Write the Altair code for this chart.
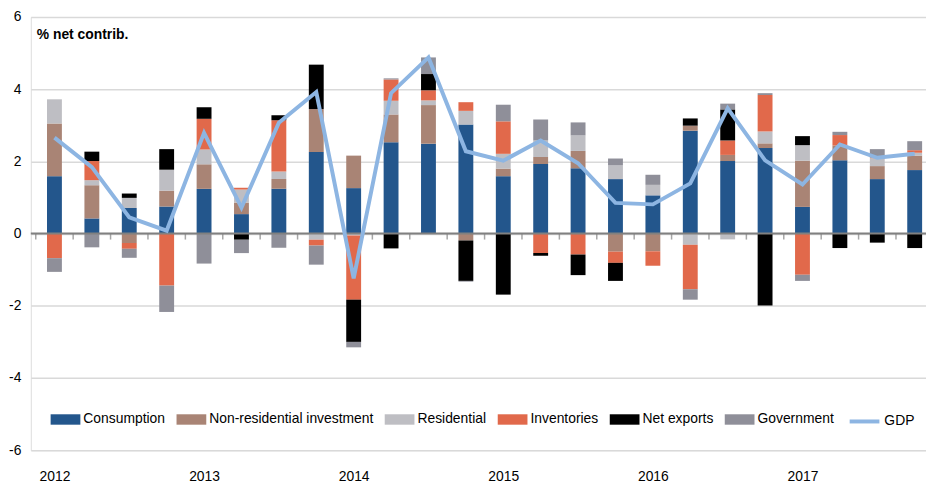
import json
import altair as alt
import pandas as pd

# ---------------- data ----------------
quarters = list(range(24))  # 2012Q1 .. 2017Q4
years = ["2012", "2013", "2014", "2015", "2016", "2017"]
components = ["Consumption", "Non-residential investment", "Residential",
              "Inventories", "Net exports", "Government"]

consumption = [1.59, 0.42, 0.71, 0.75, 1.24, 0.54, 1.24, 2.26, 1.26, 2.53, 2.49, 3.02,
               1.59, 1.93, 1.81, 1.51, 1.06, 2.85, 2.01, 2.37, 0.74, 2.03, 1.51, 1.76]
nonres = [1.46, 0.92, -0.26, 0.44, 0.68, 0.32, 0.27, 1.19, 0.90, 0.77, 1.07, -0.19,
          0.21, 0.19, 0.48, -0.50, -0.49, 0.14, 0.17, 0.13, 1.28, 0.41, 0.36, 0.40]
residential = [0.67, 0.14, 0.28, 0.58, 0.41, 0.36, 0.21, -0.17, -0.05, 0.38, 0.13, 0.38,
               0.41, 0.46, 0.43, 0.38, 0.29, -0.31, -0.16, 0.33, 0.43, 0.0, 0.22, 0.08]
inventories = [-0.68, 0.53, -0.16, -1.44, 0.85, 0.05, 1.42, -0.16, -1.78, 0.59, 0.28, 0.24,
               0.90, -0.54, -0.58, -0.31, -0.40, -1.23, 0.40, 1.01, -1.14, 0.29, 0.02, 0.07]
net_exports = [0.0, 0.26, 0.12, 0.57, 0.32, -0.17, 0.14, 1.23, -1.17, -0.41, 0.45, -1.12,
               -1.69, -0.07, -0.57, -0.50, 0.0, 0.20, 0.86, -1.99, 0.25, -0.40, -0.25, -0.40]
government = [-0.38, -0.38, -0.25, -0.73, -0.83, -0.37, -0.39, -0.53, -0.15, 0.03, 0.46, -0.02,
              0.46, 0.58, 0.36, 0.19, 0.28, -0.29, 0.16, 0.05, -0.17, 0.09, 0.23, 0.25]
gdp = [2.66, 1.84, 0.45, 0.08, 2.79, 0.72, 3.07, 3.92, -1.24, 3.89, 4.88, 2.28,
       2.02, 2.58, 1.95, 0.85, 0.81, 1.39, 3.47, 2.03, 1.36, 2.47, 2.10, 2.21]
title_text = "% net contrib."

series = [consumption, nonres, residential, inventories, net_exports, government]

# ---------------- styles ----------------
colors = ["#23568C", "#A98475", "#BEBEC3", "#E1694B", "#000000", "#8F8F99"]
gdp_color = "#8DB5E2"
FONT = "Liberation Sans"

rows = []
for k, (name, vals) in enumerate(zip(components, series)):
    for i, v in enumerate(vals):
        rows.append({"q": quarters[i], "component": name, "order": k, "value": v})
bars_df = pd.DataFrame(rows)
gdp_df = pd.DataFrame({"q": quarters, "series": ["GDP"] * len(quarters), "value": gdp})
ticks_df = pd.DataFrame({"b": [q - 0.5 for q in quarters]})
zero_df = pd.DataFrame({"z": [0]})
title_df = pd.DataFrame({"t": [title_text]})

xscale = alt.Scale(domain=[-0.5, 23.17], nice=False, zero=False)
yscale = alt.Scale(domain=[-6, 6], nice=False)

year_expr = json.dumps(years) + "[datum.value / 4]"

xaxis = alt.Axis(values=[0, 4, 8, 12, 16, 20], labelExpr=year_expr, grid=False, domain=False,
                 ticks=False, tickSize=0, labelPadding=20, title=None, labelFont=FONT,
                 labelFontSize=14, labelColor="#000000")
yaxis = alt.Axis(values=[-6, -4, -2, 0, 2, 4, 6], labelExpr="'' + datum.value", grid=True,
                 gridColor="#D9D9D9", gridWidth=1.5, domain=False, ticks=False, tickSize=0,
                 labelPadding=10, title=None, labelFont=FONT, labelFontSize=14,
                 labelColor="#000000")

# pad the Residential label as in the reference legend
legend_label_expr = "datum.label == 'Residential' ? '\u00a0\u00a0' + datum.label : datum.label"

bars = alt.Chart(bars_df).transform_stack(
    stack="value", groupby=["q"], as_=["y0", "y1"],
    sort=[alt.SortField(field="order", order="ascending")], offset="zero"
).mark_bar(size=15, clip=False).encode(
    x=alt.X("q:Q", scale=xscale, axis=xaxis),
    y=alt.Y("y0:Q", scale=yscale, axis=yaxis),
    y2="y1:Q",
    color=alt.Color("component:N", scale=alt.Scale(domain=components, range=colors),
                    legend=alt.Legend(orient="none", legendX=20, legendY=391,
                                      direction="horizontal", columns=6, title=None,
                                      symbolType="M-1,-0.35H1V0.35H-1Z", symbolSize=900,
                                      symbolStrokeWidth=0, symbolOpacity=1,
                                      labelFont=FONT, labelFontSize=14, labelColor="#000000",
                                      labelLimit=400, labelOffset=3, columnPadding=11,
                                      labelExpr=legend_label_expr, padding=0)),
)

zero_rule = alt.Chart(zero_df).mark_rule(color="#808080", strokeWidth=2).encode(
    y=alt.Y("z:Q", title=None)
)

tick_marks = alt.Chart(ticks_df).mark_tick(orient="vertical", size=6, thickness=1.5,
                                           color="#808080", yOffset=3, clip=False).encode(
    x=alt.X("b:Q", title=None),
    y=alt.datum(0),
)

line = alt.Chart(gdp_df).mark_line(strokeWidth=4, clip=False).encode(
    x=alt.X("q:Q", title=None),
    y=alt.Y("value:Q", title=None),
    stroke=alt.Stroke("series:N", scale=alt.Scale(domain=["GDP"], range=[gdp_color]),
                      legend=alt.Legend(orient="none", legendX=824, legendY=391, title=None,
                                        symbolType="stroke", symbolSize=900,
                                        symbolStrokeWidth=4, labelFont=FONT,
                                        labelFontSize=14, labelColor="#000000",
                                        labelOffset=3, padding=0)),
)

title = alt.Chart(title_df).mark_text(align="left", baseline="alphabetic", fontSize=14,
                                      fontWeight="bold", font=FONT, color="#000000").encode(
    x=alt.value(6), y=alt.value(22), text="t:N"
)

chart = alt.layer(bars, zero_rule, tick_marks, line, title).resolve_legend(
    color="independent", stroke="independent"
).properties(
    width=903, height=437,
    autosize=alt.AutoSizeParams(type="none"),
    padding={"left": 23, "top": 7, "right": 0, "bottom": 32},
).configure_view(stroke=None).configure(background="white")

chart.save("out.html", embed_options={"renderer": "svg", "actions": False})
